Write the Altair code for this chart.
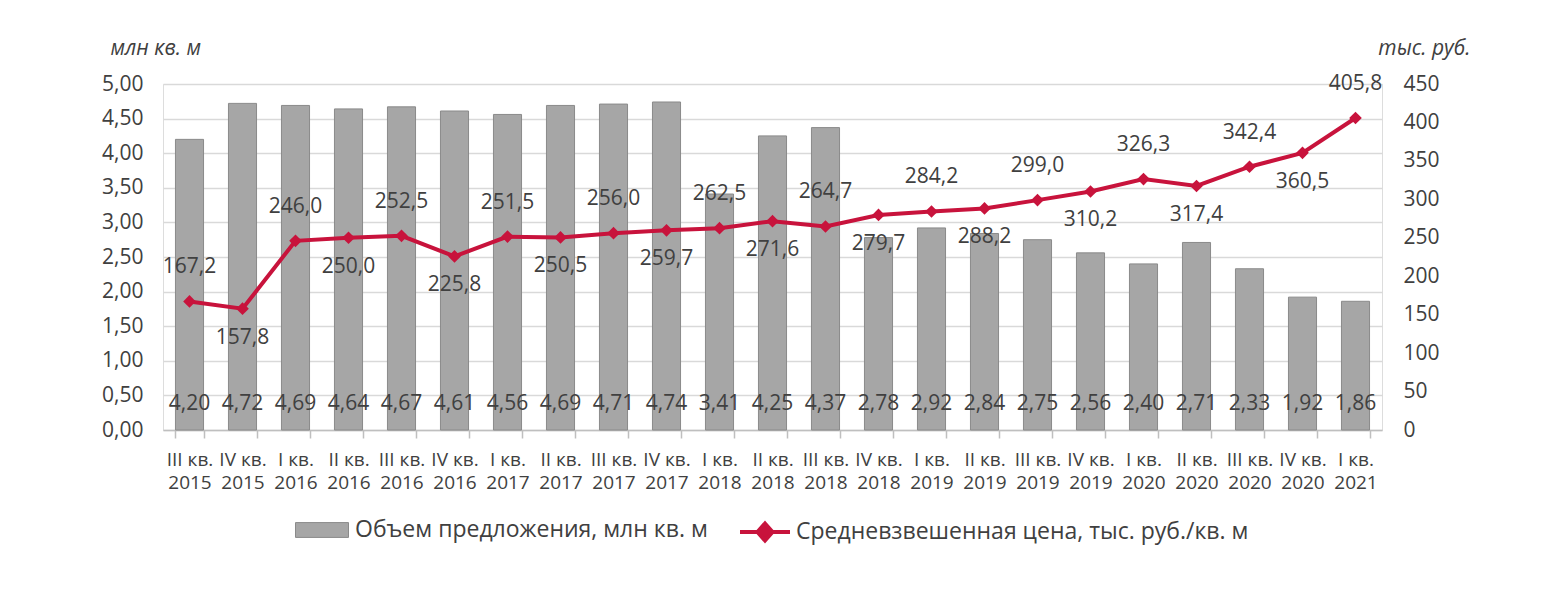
import altair as alt
import pandas as pd

quarters = ["III кв.", "IV кв.", "I кв.", "II кв.", "III кв.", "IV кв.",
            "I кв.", "II кв.", "III кв.", "IV кв.", "I кв.", "II кв.",
            "III кв.", "IV кв.", "I кв.", "II кв.", "III кв.", "IV кв.",
            "I кв.", "II кв.", "III кв.", "IV кв.", "I кв."]
years = ["2015", "2015", "2016", "2016", "2016", "2016", "2017", "2017",
         "2017", "2017", "2018", "2018", "2018", "2018", "2019", "2019",
         "2019", "2019", "2020", "2020", "2020", "2020", "2021"]
supply = [4.20, 4.72, 4.69, 4.64, 4.67, 4.61, 4.56, 4.69, 4.71, 4.74, 3.41,
          4.25, 4.37, 2.78, 2.92, 2.84, 2.75, 2.56, 2.40, 2.71, 2.33, 1.92, 1.86]
price = [167.2, 157.8, 246.0, 250.0, 252.5, 225.8, 251.5, 250.5, 256.0, 259.7,
         262.5, 271.6, 264.7, 279.7, 284.2, 288.2, 299.0, 310.2, 326.3, 317.4,
         342.4, 360.5, 405.8]
label_side = ["above", "below"] * 11 + ["above"]
left_ticks = [0, 0.5, 1, 1.5, 2, 2.5, 3, 3.5, 4, 4.5, 5]
right_ticks = [0, 50, 100, 150, 200, 250, 300, 350, 400, 450]

bar_name = "Объем предложения, млн кв. м"
line_name = "Средневзвешенная цена, тыс. руб./кв. м"

cats = [f"{q}|{y}" for q, y in zip(quarters, years)]
df = pd.DataFrame({
    "cat": cats,
    "supply": supply,
    "price": price,
    "side": label_side,
    "supply_lbl": [f"{v:.2f}".replace(".", ",") for v in supply],
    "price_lbl": [f"{v:.1f}".replace(".", ",") for v in price],
    "s1": bar_name,
    "s2": line_name,
})

FONT = "Open Sans"
TXT = "#404040"
RED = "#c8133c"
GRAY = "#a6a6a6"

x = alt.X("cat:N", sort=cats, title=None,
          scale=alt.Scale(paddingInner=0.47),
          axis=alt.Axis(labelExpr="split(datum.label, '|')", labelAngle=0,
                        labelFontSize=19, labelColor=TXT, labelFont=FONT,
                        labelBaseline="top", labelLineHeight=23, labelPadding=12,
                        labelOverlap=False, labelLimit=0,
                        domainColor="#bfbfbf", domainWidth=1.5,
                        tickColor="#bfbfbf", tickWidth=1.5, tickSize=8,
                        tickBand="extent"))

base = alt.Chart(df).encode(x=x)

left_scale = alt.Scale(domain=[0, 5])
left_axis = alt.Axis(orient="left", values=left_ticks,
                     labelExpr="replace(format(datum.value, '.2f'), '.', ',')",
                     labelOverlap=False,
                     grid=True, gridColor="#d9d9d9", gridWidth=1.5,
                     domain=False, ticks=False, labelPadding=20,
                     labelFontSize=21, labelColor=TXT, labelFont=FONT,
                     title="млн кв. м", titleAngle=0, titleX=-53, titleY=-36,
                     titleAlign="left", titleBaseline="middle",
                     titleFontStyle="italic", titleFontWeight="normal",
                     titleFontSize=21, titleColor=TXT, titleFont=FONT)

bars = base.mark_bar(stroke="#8a8a8a", strokeWidth=1).encode(
    y=alt.Y("supply:Q", scale=left_scale, axis=left_axis),
    color=alt.Color("s1:N", scale=alt.Scale(domain=[bar_name], range=[GRAY]),
                    legend=alt.Legend(orient="none", legendX=132, legendY=419,
                                      title=None, padding=0, labelLimit=0,
                                      symbolType="M-1,-0.28H1V0.28H-1Z",
                                      symbolSize=2809, symbolStrokeColor="#8a8a8a",
                                      symbolStrokeWidth=1, symbolOpacity=1,
                                      labelFontSize=23, labelColor=TXT, labelFont=FONT,
                                      labelOffset=6)),
)

bar_text = base.mark_text(dy=-26, fontSize=21, color=TXT, font=FONT,
                          baseline="middle").encode(
    y=alt.YDatum(0, scale=left_scale, axis=left_axis),
    text="supply_lbl:N",
)

left = alt.layer(bars, bar_text)

right_scale = alt.Scale(domain=[0, 450])
right_axis = alt.Axis(orient="right", values=right_ticks,
                      labelOverlap=False,
                      grid=False, domain=False, ticks=False, labelPadding=21,
                      labelFontSize=21, labelColor=TXT, labelFont=FONT,
                      title="тыс. руб.", titleAngle=0, titleX=88, titleY=-36,
                      titleAlign="right", titleBaseline="middle",
                      titleFontStyle="italic", titleFontWeight="normal",
                      titleFontSize=21, titleColor=TXT, titleFont=FONT)
y_right = alt.Y("price:Q", scale=right_scale, axis=right_axis)

line = base.mark_line(strokeWidth=4,
                      point=alt.OverlayMarkDef(shape="diamond", size=160,
                                               filled=True)).encode(
    y=y_right,
    color=alt.Color("s2:N", scale=alt.Scale(domain=[line_name], range=[RED]),
                    legend=alt.Legend(orient="none", legendX=575, legendY=421,
                                      title=None, padding=0, labelLimit=0,
                                      symbolType="M-1,0H1M0,-0.34L0.3,0L0,0.34L-0.3,0Z",
                                      symbolSize=2500, symbolStrokeWidth=4,
                                      symbolFillColor=RED, symbolStrokeColor=RED,
                                      symbolOpacity=1,
                                      labelFontSize=23, labelColor=TXT, labelFont=FONT,
                                      labelOffset=4)),
)

lab_above = base.transform_filter(alt.datum.side == "above").mark_text(
    dy=-34, fontSize=21, color=TXT, font=FONT, baseline="middle").encode(
    y=y_right, text="price_lbl:N")
lab_below = base.transform_filter(alt.datum.side == "below").mark_text(
    dy=29, fontSize=21, color=TXT, font=FONT, baseline="middle").encode(
    y=y_right, text="price_lbl:N")

right = alt.layer(line, lab_above, lab_below)

chart = alt.layer(left, right).resolve_scale(
    y="independent", color="independent"
).resolve_legend(color="independent").properties(
    width=1219, height=346,
    autosize=alt.AutoSizeParams(type="none"),
    padding={"left": 155, "top": 76, "right": 160, "bottom": 153},
).configure_view(stroke=None).configure(font=FONT)

chart.save("out.html", embed_options={"renderer": "svg", "actions": False})
